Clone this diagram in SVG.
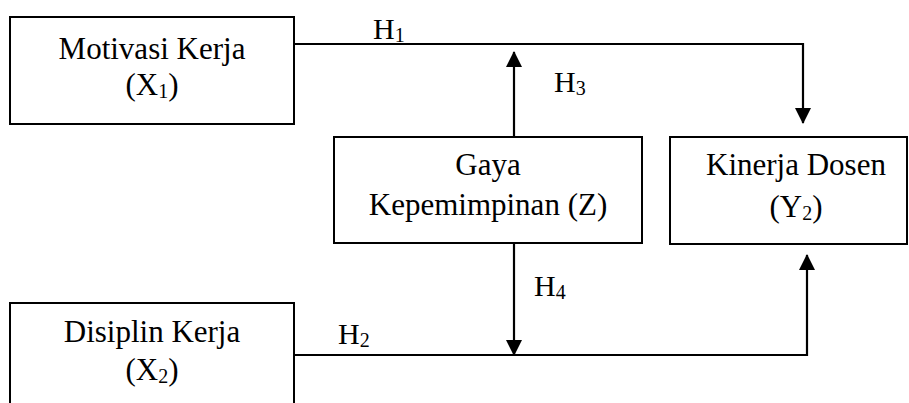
<svg xmlns="http://www.w3.org/2000/svg" width="909" height="403" viewBox="0 0 909 403">
<defs>
<style>
.box{fill:#fff;stroke:#000;stroke-width:2}
.t{font-family:"Liberation Serif","Times New Roman",serif;font-size:31px;fill:#000;text-anchor:middle}
.h{font-family:"Liberation Serif","Times New Roman",serif;font-size:30px;fill:#000}
.sub{font-size:20px}
.c{fill:none;stroke:#000;stroke-width:2.2}
</style>
<marker id="ah" viewBox="0 0 16 16" refX="15" refY="8" markerWidth="16" markerHeight="16" markerUnits="userSpaceOnUse" orient="auto">
<path d="M0,0 L16,8 L0,16 Z" fill="#000"/>
</marker>
</defs>
<rect width="909" height="403" fill="#fff"/>
<g id="connectors">
<polyline class="c" points="294,44 803,44 803,123" marker-end="url(#ah)"/>
<line class="c" x1="514" y1="137" x2="514" y2="52" marker-end="url(#ah)"/>
<line class="c" x1="514" y1="243" x2="514" y2="355" marker-end="url(#ah)"/>
<polyline class="c" points="294,355 807,355 807,255" marker-end="url(#ah)"/>
<text class="h" x="373" y="39">H<tspan class="sub" dy="3">1</tspan></text>
<text class="h" x="554" y="92">H<tspan class="sub" dy="3">3</tspan></text>
<text class="h" x="534" y="296">H<tspan class="sub" dy="3">4</tspan></text>
<text class="h" x="338" y="344">H<tspan class="sub" dy="3">2</tspan></text>
</g>
<g id="motivasi">
<rect class="box" x="10" y="17" width="284" height="107"/>
<text class="t" x="152" y="59">Motivasi Kerja</text>
<text class="t" x="152" y="95">(X<tspan class="sub" dy="3">1</tspan><tspan dy="-3">)</tspan></text>
</g>
<g id="gaya">
<rect class="box" x="334" y="137" width="308" height="106"/>
<text class="t" x="488" y="175">Gaya</text>
<text class="t" x="488" y="215">Kepemimpinan (Z)</text>
</g>
<g id="kinerja">
<rect class="box" x="670" y="137" width="237" height="107"/>
<text class="t" x="796" y="175">Kinerja Dosen</text>
<text class="t" x="796" y="217">(Y<tspan class="sub" dy="3">2</tspan><tspan dy="-3">)</tspan></text>
</g>
<g id="disiplin">
<rect class="box" x="10" y="303" width="284" height="120"/>
<text class="t" x="152" y="342">Disiplin Kerja</text>
<text class="t" x="152" y="380">(X<tspan class="sub" dy="3">2</tspan><tspan dy="-3">)</tspan></text>
</g>
</svg>
